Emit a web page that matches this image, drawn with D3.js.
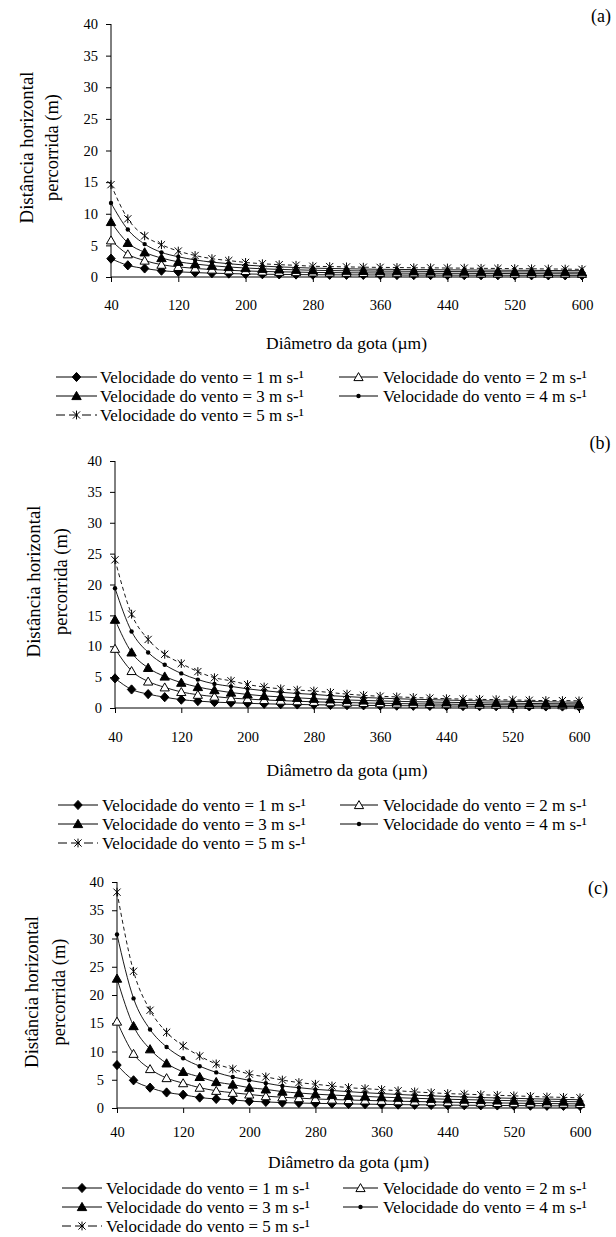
<!DOCTYPE html>
<html><head><meta charset="utf-8">
<script src="https://cdn.jsdelivr.net/npm/d3@7"></script>
<style>
body{margin:0;background:#fff}
svg text{font-family:"Liberation Serif","Times New Roman",Times,serif !important;fill:#000}
</style>
</head><body>
<svg id="chart" width="616" height="1237"></svg>
<script>
// ---------------- DATA ----------------
const diameters = [40,60,80,100,120,140,160,180,200,220,240,260,280,300,320,340,360,380,400,420,440,460,480,500,520,540,560,580,600];
const xTickValues = [40,120,200,280,360,440,520,600];
const yTickValues = [0,5,10,15,20,25,30,35,40];
const seriesNames = [
  "Velocidade do vento = 1 m s-\u00b9",
  "Velocidade do vento = 2 m s-\u00b9",
  "Velocidade do vento = 3 m s-\u00b9",
  "Velocidade do vento = 4 m s-\u00b9",
  "Velocidade do vento = 5 m s-\u00b9"
];
const panelLabels = ["(a)","(b)","(c)"];
const xTitle = "Diâmetro da gota (µm)";
const yTitleLines = ["Distância horizontal","percorrida (m)"];

// Panel (a)
const a1 = [2.9,1.85,1.35,1.0,0.82,0.7,0.6,0.54,0.48,0.44,0.41,0.39,0.36,0.35,0.34,0.33,0.32,0.31,0.3,0.3,0.29,0.29,0.28,0.28,0.27,0.27,0.26,0.26,0.25];
const a2 = [5.8,3.6,2.6,1.95,1.6,1.35,1.18,1.06,0.96,0.88,0.82,0.78,0.72,0.7,0.67,0.65,0.63,0.62,0.6,0.6,0.58,0.58,0.56,0.56,0.54,0.54,0.52,0.52,0.5];
const a3 = [8.7,5.4,3.9,3.0,2.4,2.05,1.78,1.58,1.42,1.3,1.2,1.14,1.06,1.02,0.99,0.96,0.93,0.92,0.9,0.88,0.86,0.85,0.83,0.82,0.8,0.8,0.78,0.77,0.75];
const a4 = [11.7,7.5,5.2,3.9,3.2,2.7,2.35,2.1,1.88,1.72,1.6,1.5,1.4,1.35,1.3,1.26,1.22,1.2,1.17,1.16,1.13,1.12,1.1,1.08,1.06,1.05,1.03,1.02,1.0];
const a5 = [14.6,9.2,6.5,5.1,4.1,3.4,2.9,2.6,2.3,2.1,1.95,1.85,1.7,1.65,1.6,1.55,1.52,1.5,1.46,1.45,1.42,1.4,1.37,1.35,1.32,1.3,1.27,1.25,1.2];

// Panel (b)
const b1 = [4.8,3.0,2.25,1.75,1.35,1.12,0.95,0.85,0.76,0.68,0.62,0.57,0.53,0.49,0.46,0.43,0.4,0.38,0.36,0.34,0.32,0.31,0.29,0.28,0.27,0.26,0.25,0.24,0.23];
const b2 = [9.6,6.0,4.3,3.35,2.6,2.15,1.85,1.6,1.45,1.3,1.2,1.1,1.0,0.94,0.88,0.82,0.77,0.72,0.68,0.65,0.62,0.59,0.56,0.54,0.52,0.5,0.48,0.46,0.45];
const b3 = [14.3,9.0,6.5,5.1,4.1,3.4,2.9,2.5,2.2,1.95,1.8,1.65,1.5,1.4,1.3,1.22,1.15,1.08,1.02,0.97,0.92,0.88,0.84,0.8,0.77,0.74,0.71,0.69,0.66];
const b4 = [19.4,12.4,9.0,7.0,5.6,4.6,3.9,3.5,3.1,2.8,2.55,2.35,2.2,2.0,1.85,1.7,1.6,1.5,1.42,1.35,1.28,1.22,1.17,1.12,1.08,1.04,1.0,0.97,0.94];
const b5 = [24.0,15.2,11.1,8.7,7.2,5.9,4.9,4.4,3.8,3.4,3.1,2.9,2.75,2.5,2.25,2.05,1.9,1.8,1.7,1.6,1.5,1.45,1.4,1.35,1.3,1.25,1.2,1.2,1.15];

// Panel (c)
const c1 = [7.6,4.9,3.6,2.75,2.35,1.85,1.6,1.42,1.2,1.08,0.95,0.88,0.82,0.77,0.72,0.68,0.64,0.6,0.57,0.54,0.51,0.49,0.47,0.45,0.43,0.41,0.39,0.38,0.36];
const c2 = [15.3,9.6,6.9,5.3,4.4,3.6,3.05,2.7,2.4,2.1,1.9,1.75,1.6,1.5,1.42,1.34,1.28,1.2,1.15,1.1,1.03,0.99,0.95,0.9,0.86,0.82,0.79,0.76,0.73];
const c3 = [22.9,14.5,10.4,7.9,6.4,5.5,4.6,4.15,3.6,3.3,2.9,2.65,2.45,2.3,2.15,2.05,1.92,1.82,1.72,1.63,1.55,1.48,1.42,1.35,1.29,1.24,1.19,1.14,1.1];
const c4 = [30.7,19.4,13.9,10.8,8.8,7.4,6.3,5.5,4.9,4.4,3.9,3.6,3.3,3.1,2.9,2.7,2.55,2.4,2.26,2.15,2.04,1.95,1.86,1.78,1.71,1.64,1.58,1.52,1.46];
const c5 = [38.2,24.2,17.3,13.4,11.0,9.2,7.8,6.9,6.0,5.5,4.95,4.5,4.2,3.9,3.6,3.42,3.25,3.05,2.85,2.7,2.55,2.45,2.35,2.25,2.15,2.05,1.95,1.88,1.8];

const panelSeries = [[a1,a2,a3,a4,a5],[b1,b2,b3,b4,b5],[c1,c2,c3,c4,c5]];

// ---------------- LAYOUT ----------------
const FONT = "Liberation Serif";
const layouts = [
  {left:111, right:582, top:24, bottom:277, lab:[601,16], yt:[26,52], xtickY:305, xtitleY:343, leg:[377,396,415], legX:[[56,97,100],[339,378,383]]},
  {left:115, right:579, top:461, bottom:708, lab:[600,443], yt:[33,61], xtickY:737, xtitleY:770, leg:[805,824,843], legX:[[58,98,102],[340,378,383]]},
  {left:117, right:580, top:882, bottom:1108, lab:[598,888], yt:[31,59], xtickY:1132, xtitleY:1162, leg:[1188,1207,1226], legX:[[62,102,106],[343,378,383]]}
];

const svg = d3.select("#chart");

function fitWidth(sel, target, base) {
  sel.attr("font-size", base);
  const w = sel.node().getComputedTextLength();
  if (w > 0) sel.attr("font-size", (base * target / w).toFixed(2));
}

const markerPaths = [
  "M0,-4.6L4.2,0L0,4.6L-4.2,0Z",
  "M0,-4.4L4.6,3.6L-4.6,3.6Z",
  "M0,-4.6L4.7,3.6L-4.7,3.6Z",
  null,
  "M-3.6,-3.6L3.6,3.6M-3.6,3.6L3.6,-3.6M0,-4.4L0,4.4"
];
function drawMarker(g, i, x, y) {
  if (i === 3) {
    g.append("circle").attr("cx", x).attr("cy", y).attr("r", 2.2).attr("fill", "#000");
  } else if (i === 4) {
    g.append("path").attr("d", markerPaths[i]).attr("transform", `translate(${x},${y})`)
      .attr("fill", "none").attr("stroke", "#000").attr("stroke-width", 1);
  } else {
    g.append("path").attr("d", markerPaths[i]).attr("transform", `translate(${x},${y})`)
      .attr("fill", i === 1 ? "#fff" : "#000").attr("stroke", "#000").attr("stroke-width", 1);
  }
}

layouts.forEach((L, p) => {
  const g = svg.append("g").attr("font-family", FONT);
  const x = d3.scaleLinear().domain([40, 600]).range([L.left, L.right]);
  const y = d3.scaleLinear().domain([0, 40]).range([L.bottom, L.top]);

  const yAxis = d3.axisLeft(y).tickValues(yTickValues).tickSize(5).tickPadding(8).tickFormat(d3.format("d"));
  const gy = g.append("g").attr("transform", `translate(${L.left},0)`).call(yAxis);
  const xAxis = d3.axisBottom(x).tickValues(xTickValues).tickSize(5).tickFormat(d3.format("d"));
  const gx = g.append("g").attr("transform", `translate(0,${L.bottom})`).call(xAxis);
  [gx, gy].forEach(a => {
    a.attr("font-family", FONT).attr("font-size", 14.5);
    a.select(".domain").attr("stroke", "#000").attr("stroke-width", 1);
    a.selectAll(".tick line").attr("stroke", "#000");
    a.selectAll("text").attr("fill", "#000");
  });
  gx.select(".domain").attr("d", `M${L.left},0H${L.right}`);
  gy.select(".domain").attr("d", `M0,${L.top}V${L.bottom}`);
  gx.selectAll(".tick text").attr("y", L.xtickY - L.bottom).attr("dy", "0.35em");

  const series = panelSeries[p];
  const line = d3.line().x((d, k) => x(diameters[k])).y(d => y(d)).curve(d3.curveMonotoneX);
  series.forEach((vals, i) => {
    g.append("path").datum(vals).attr("d", line).attr("fill", "none")
      .attr("stroke", "#000").attr("stroke-width", 0.9)
      .attr("stroke-dasharray", i === 4 ? "4,3" : null);
  });
  series.forEach((vals, i) => {
    const mg = g.append("g");
    vals.forEach((v, k) => drawMarker(mg, i, x(diameters[k]), y(v)));
  });

  g.append("text").attr("x", L.lab[0]).attr("y", L.lab[1]).attr("dy", "0.35em")
    .attr("text-anchor", "middle").attr("font-size", 18).text(panelLabels[p]);

  const yc = (L.top + L.bottom) / 2 - 3;
  yTitleLines.forEach((t, j) => {
    const tt = g.append("text").attr("transform", `translate(${L.yt[j]},${yc}) rotate(-90)`)
      .attr("text-anchor", "middle").attr("dy", "0.35em").text(t);
    fitWidth(tt, j === 0 ? 152 : 107, 16);
  });

  const xt = g.append("text").attr("x", (L.left + L.right) / 2).attr("y", L.xtitleY).attr("dy", "0.35em")
    .attr("text-anchor", "middle").text(xTitle);
  fitWidth(xt, 161, 16);

  seriesNames.forEach((name, i) => {
    const row = Math.floor(i / 2), col = i % 2;
    const cy = L.leg[row];
    const [x1, x2, tx] = L.legX[col];
    const lg = g.append("g");
    lg.append("line").attr("x1", x1).attr("x2", x2).attr("y1", cy).attr("y2", cy)
      .attr("stroke", "#000").attr("stroke-width", 1)
      .attr("stroke-dasharray", i === 4 ? "9,4" : null);
    drawMarker(lg, i, (x1 + x2) / 2, cy);
    const lt = lg.append("text").attr("x", tx).attr("y", cy).attr("dy", "0.35em").text(name);
    fitWidth(lt, 204, 16);
  });
});
</script>
</body></html>
